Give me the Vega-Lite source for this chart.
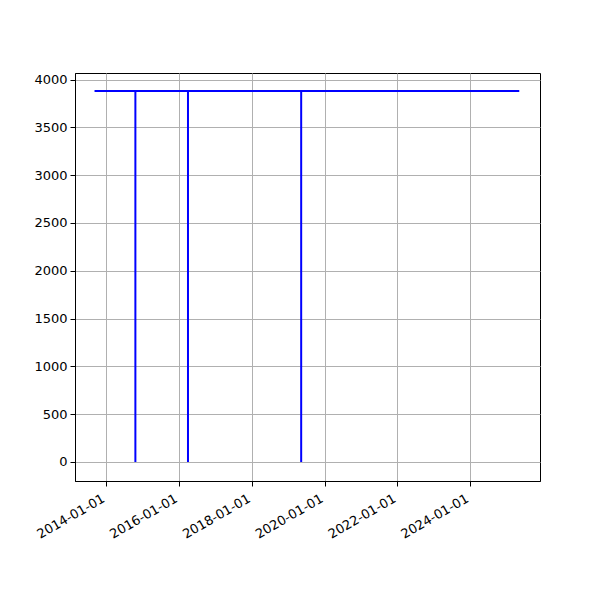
{
  "$schema": "https://vega.github.io/schema/vega-lite/v6.json",
  "width": 465,
  "height": 408,
  "autosize": {"type": "none"},
  "padding": {"left": 75, "top": 73, "right": 60, "bottom": 119},
  "background": "white",
  "config": {
    "view": {"stroke": "black", "strokeWidth": 1},
    "axis": {
      "labelFont": "DejaVu Sans",
      "labelFontSize": 13,
      "labelColor": "black",
      "domainColor": "black",
      "tickColor": "black",
      "tickSize": 5,
      "tickWidth": 1,
      "gridColor": "#b0b0b0",
      "gridWidth": 1,
      "labelPadding": 3
    }
  },
  "data": {
    "values": [
      {"start": "2013-09-05", "end": "2025-05-08", "low": 3881, "high": 3881},
      {"start": "2014-10-20", "end": "2014-10-20", "low": 0, "high": 3881},
      {"start": "2016-03-31", "end": "2016-03-31", "low": 0, "high": 3881},
      {"start": "2019-05-11", "end": "2019-05-11", "low": 0, "high": 3881}
    ]
  },
  "mark": {"type": "rule", "color": "blue", "strokeWidth": 2},
  "encoding": {
    "x": {
      "field": "start",
      "type": "temporal",
      "title": null,
      "scale": {
        "type": "utc",
        "domain": [
          {"year": 2013, "month": 2, "date": 21, "utc": true},
          {"year": 2025, "month": 12, "date": 2, "utc": true}
        ],
        "nice": false
      },
      "axis": {
        "tickCount": {"interval": "year", "step": 2},
        "labelExpr": "utcFormat(datum.value, '%Y-%m-%d')",
        "labelAngle": -30,
        "labelAlign": "right",
        "labelBaseline": "top",
        "labelOverlap": false,
        "labelPadding": 6,
        "labelOffset": -6,
        "grid": true
      }
    },
    "x2": {"field": "end"},
    "y": {
      "field": "low",
      "type": "quantitative",
      "title": null,
      "scale": {"domain": [-199, 4069], "nice": false, "zero": false},
      "axis": {"values": [0, 500, 1000, 1500, 2000, 2500, 3000, 3500, 4000], "format": "d", "grid": true}
    },
    "y2": {"field": "high"}
  }
}
